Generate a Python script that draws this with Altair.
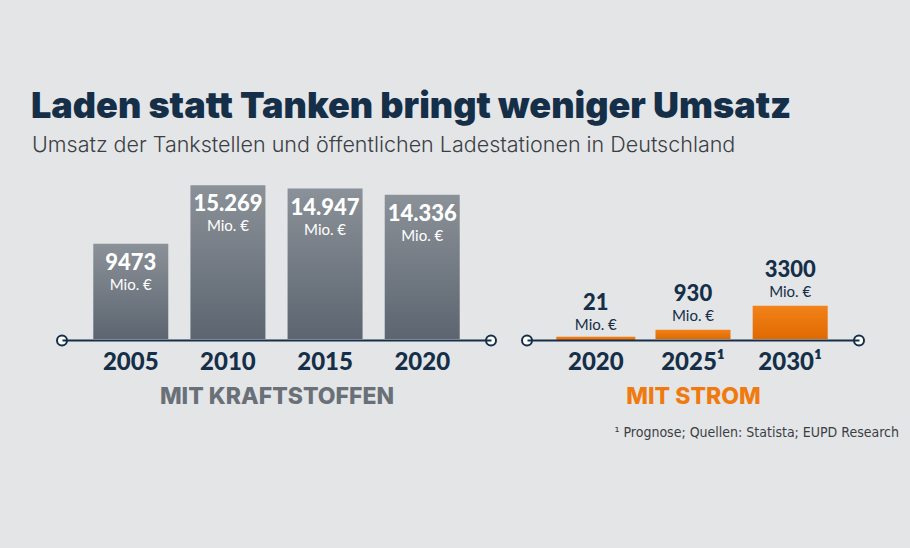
import altair as alt
import pandas as pd

# Revenue of fuel stations (million EUR)
fuel_years = ["2005", "2010", "2015", "2020"]
fuel_values = [9473, 15269, 14947, 14336]
fuel_labels = ["9473", "15.269", "14.947", "14.336"]

# Revenue of public charging stations (million EUR, ¹ = forecast)
power_years = ["2020", "2025¹", "2030¹"]
power_values = [21, 930, 3300]
power_labels = ["21", "930", "3300"]

title_text = "Laden statt Tanken bringt weniger Umsatz"
subtitle_text = "Umsatz der Tankstellen und öffentlichen Ladestationen in Deutschland"
footnote_text = "¹ Prognose; Quellen: Statista; EUPD Research"
unit_text = "Mio. €"

BG = "#e4e5e7"
NAVY = "#152f48"
GRAY_TXT = "#6a7077"
ORANGE = "#ef7b10"
FONT = "Lato"
HEAD_FONT = "Inter"

W, H = 910, 548
BASE_Y = 340          # vertical position of the baseline
LEFT_RANGE = [62, 491]
RIGHT_RANGE = [527, 859]

fuel = pd.DataFrame({"year": fuel_years, "value": fuel_values, "label": fuel_labels})
power = pd.DataFrame({"year": power_years, "value": power_values, "label": power_labels})

y_enc = alt.Y("value:Q", axis=None,
              scale=alt.Scale(domain=[0, 16000], range=[339, 178], nice=False, zero=True))


def x_enc(rng, title, title_color):
    return alt.X(
        "year:N", sort=None, title=title,
        scale=alt.Scale(range=rng, paddingInner=0.228, paddingOuter=0.322),
        axis=alt.Axis(
            orient="bottom", offset=BASE_Y - H, domainColor=NAVY, domainWidth=2,
            ticks=False, tickSize=0, labelPadding=10, labelAngle=0,
            labelFont=FONT, labelFontSize=24, labelFontWeight=900, labelColor=NAVY,
            titleFont=HEAD_FONT, titleFontSize=23, titleFontWeight=800, titleColor=title_color,
            titleBaseline="alphabetic", titleY=63, zindex=1,
        ),
    )


gray_grad = alt.LinearGradient(
    gradient="linear", x1=0, y1=0, x2=0, y2=1,
    stops=[alt.GradientStop(color="#8b9198", offset=0),
           alt.GradientStop(color="#5c6570", offset=1)],
)
orange_grad = alt.LinearGradient(
    gradient="linear", x1=0, y1=0, x2=0, y2=1,
    stops=[alt.GradientStop(color="#f2821a", offset=0),
           alt.GradientStop(color="#e06a00", offset=1)],
)

xf = x_enc(LEFT_RANGE, "MIT KRAFTSTOFFEN", GRAY_TXT)
fuel_base = alt.Chart(fuel).encode(x=xf, y=y_enc)
fuel_layer = alt.layer(
    fuel_base.mark_bar(fill=gray_grad),
    fuel_base.mark_text(font=FONT, fontSize=22, fontWeight=900, color="white",
                        baseline="alphabetic", dy=26).encode(text="label:N"),
    fuel_base.mark_text(font=FONT, fontSize=15, color="white",
                        baseline="alphabetic", dy=46).encode(text=alt.value(unit_text)),
)

xp = x_enc(RIGHT_RANGE, "MIT STROM", ORANGE)
power_base = alt.Chart(power).encode(x=xp, y=y_enc)
power_layer = alt.layer(
    # tiny values get an outline so the bar stays visible above the baseline
    power_base.mark_bar(fill=orange_grad, stroke=ORANGE).encode(
        strokeWidth=alt.condition("datum.value < 100", alt.value(4), alt.value(0))
    ),
    power_base.mark_text(font=FONT, fontSize=22, fontWeight=900, color=NAVY,
                         baseline="alphabetic", dy=-29).encode(text="label:N"),
    power_base.mark_text(font=FONT, fontSize=15, color=NAVY,
                         baseline="alphabetic", dy=-9).encode(text=alt.value(unit_text)),
)

# open circles at both ends of each baseline
ends = pd.DataFrame({"px": LEFT_RANGE + RIGHT_RANGE})
circles = alt.Chart(ends).mark_point(
    shape="circle", size=100, filled=True, fill="white", stroke=NAVY, strokeWidth=2, opacity=1
).encode(x=alt.X("px:Q", scale=alt.Scale(domain=[0, W], range=[0, W]), axis=None),
         y=alt.value(BASE_Y + 0.5))

one = pd.DataFrame({"k": [0]})
title = alt.Chart(one).mark_text(
    text=title_text, font=HEAD_FONT, fontSize=36, fontWeight=900, color=NAVY,
    align="left", baseline="alphabetic"
).encode(x=alt.value(31), y=alt.value(118))
subtitle = alt.Chart(one).mark_text(
    text=subtitle_text, font=HEAD_FONT, fontSize=21.5, fontWeight=300, color="#3a3f45",
    align="left", baseline="alphabetic"
).encode(x=alt.value(32), y=alt.value(152))
footnote = alt.Chart(one).mark_text(
    text=footnote_text, font="DejaVu Sans Condensed, Roboto", fontSize=14, color="#3a3f45",
    align="right", baseline="alphabetic"
).encode(x=alt.value(899), y=alt.value(437))

chart = alt.layer(
    fuel_layer, power_layer, circles, title, subtitle, footnote
).resolve_scale(x="independent").properties(
    width=W, height=H, padding=0,
    autosize=alt.AutoSizeParams(type="none"),
    background=BG,
).configure_view(stroke=None)

chart.save("out.html", embed_options={"renderer": "svg", "actions": False})
